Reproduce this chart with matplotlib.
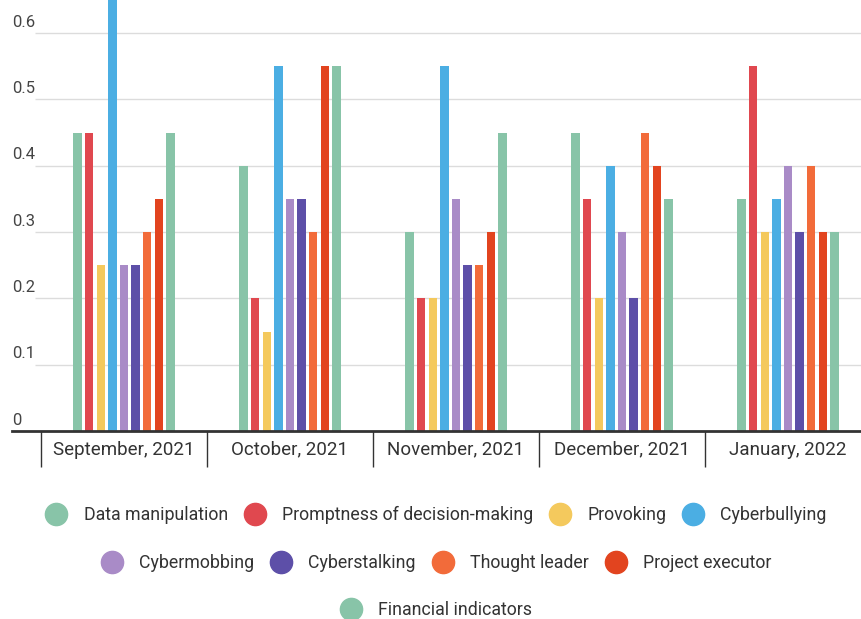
import numpy as np
import matplotlib.pyplot as plt
from matplotlib.lines import Line2D

plt.rcParams['font.family'] = ['Roboto', 'DejaVu Sans']

months = ["September, 2021", "October, 2021", "November, 2021",
          "December, 2021", "January, 2022"]
series = ["Data manipulation", "Promptness of decision-making", "Provoking",
          "Cyberbullying", "Cybermobbing", "Cyberstalking", "Thought leader",
          "Project executor", "Financial indicators"]
colors = ["#88c4a8", "#e0484f", "#f4c95d", "#4baee3", "#a98bc7",
          "#5d4fa8", "#f26b3a", "#e2441f", "#88c4a8"]

data_manipulation = [0.45, 0.40, 0.30, 0.45, 0.35]
promptness = [0.45, 0.20, 0.20, 0.35, 0.55]
provoking = [0.25, 0.15, 0.20, 0.20, 0.30]
cyberbullying = [0.65, 0.55, 0.55, 0.40, 0.35]
cybermobbing = [0.25, 0.35, 0.35, 0.30, 0.40]
cyberstalking = [0.25, 0.35, 0.25, 0.20, 0.30]
thought_leader = [0.30, 0.30, 0.25, 0.45, 0.40]
project_executor = [0.35, 0.55, 0.30, 0.40, 0.30]
financial = [0.45, 0.55, 0.45, 0.35, 0.30]

values = [data_manipulation, promptness, provoking, cyberbullying,
          cybermobbing, cyberstalking, thought_leader, project_executor,
          financial]
yticks = [0, 0.1, 0.2, 0.3, 0.4, 0.5, 0.6]

W, H = 861, 619
fig = plt.figure(figsize=(W / 100, H / 100), dpi=100)
ax = fig.add_axes([12 / W, (H - 431) / H, 1 - 12 / W, 431 / H])

cat_px = 166.0
xl = -0.5 - 29 / cat_px
xr = -0.5 + (W - 41) / cat_px
ax.set_xlim(xl, xr)
ax.set_ylim(0, 0.65)

x = np.arange(len(months))
stride = 11.6 / cat_px
width = 8.5 / cat_px
for i, (name, vals) in enumerate(zip(series, values)):
    ax.bar(x + (i - 4) * stride, vals, width=width, color=colors[i],
           zorder=3, label=name)

# gridlines and y labels
for t in yticks[1:]:
    ax.hlines(t, -0.5 - 6 / cat_px, xr, color="#dcdcdc", lw=1, zorder=1)
for t in yticks:
    ax.text(0, t + 0.005, f"{t:g}", transform=ax.get_yaxis_transform(),
            ha="left", va="bottom", fontsize=12, color="#444444")
ax.axhline(0, color="#333333", lw=2, zorder=4, clip_on=False)

# category separators and labels
ax.vlines(np.arange(len(months) + 1) - 0.5, -0.055, 0, color="#333333",
          lw=1, clip_on=False)
for i, m in enumerate(months):
    ax.text(i, -0.028, m, ha="center", va="center", fontsize=13.5,
            color="#333333")

for s in ax.spines.values():
    s.set_visible(False)
ax.set_xticks([])
ax.set_yticks([])

rows = [[0, 1, 2, 3], [4, 5, 6, 7], [8]]
row_y = [1 - 515 / H, 1 - 563 / H, 1 - 610 / H]
for r, yy in zip(rows, row_y):
    handles = [Line2D([], [], marker="o", ls="", markersize=16,
                      color=colors[k], label=series[k]) for k in r]
    fig.legend(handles=handles, loc="center", bbox_to_anchor=(436 / W, yy),
               ncol=len(r), frameon=False, fontsize=12.8, handlelength=1.24,
               handletextpad=0.9, columnspacing=0.9, labelcolor="#333333",
               borderpad=0, borderaxespad=0)

fig.savefig("out.png", dpi=100)
